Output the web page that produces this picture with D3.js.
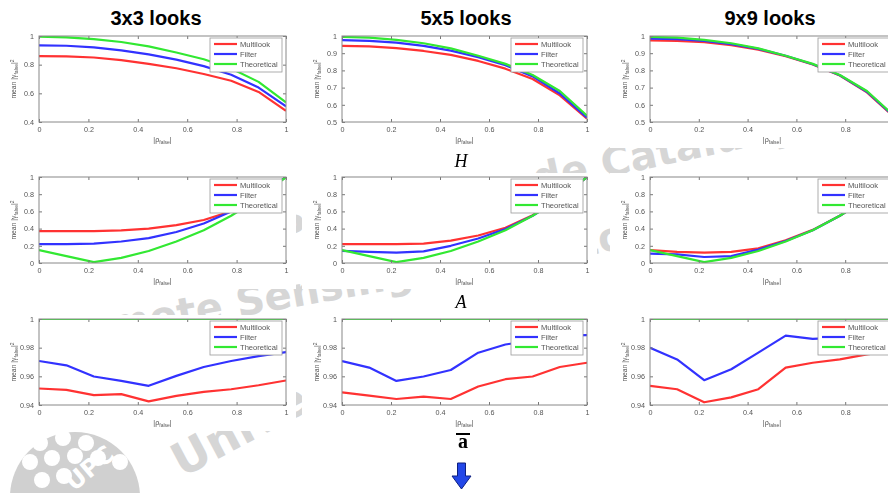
<!DOCTYPE html>
<html><head><meta charset="utf-8">
<script src="https://cdn.jsdelivr.net/npm/d3@7"></script>
<style>
body{margin:0;background:#fff}
svg{display:block}
</style>
</head><body>
<svg id="fig" width="888" height="493"></svg>
<script>
// |rho_false| samples shared by every curve
const rho = [0, 0.111, 0.222, 0.333, 0.444, 0.556, 0.667, 0.778, 0.889, 1];
const looks = ["3x3 looks", "5x5 looks", "9x9 looks"];
const seriesNames = ["Multilook", "Filter", "Theoretical"];
const xTicks = [0, 0.2, 0.4, 0.6, 0.8, 1];

// Entropy H
const hTheoretical = [0.995, 0.99, 0.978, 0.958, 0.928, 0.885, 0.838, 0.773, 0.68, 0.537];
const hMulti3  = [0.86, 0.858, 0.85, 0.832, 0.806, 0.775, 0.735, 0.688, 0.61, 0.478];
const hFilter3 = [0.935, 0.932, 0.92, 0.9, 0.872, 0.835, 0.79, 0.73, 0.64, 0.51];
const hMulti5  = [0.943, 0.94, 0.93, 0.913, 0.89, 0.855, 0.81, 0.75, 0.655, 0.52];
const hFilter5 = [0.976, 0.972, 0.962, 0.943, 0.915, 0.877, 0.83, 0.765, 0.666, 0.525];
const hMulti9  = [0.975, 0.972, 0.964, 0.947, 0.921, 0.882, 0.834, 0.77, 0.672, 0.53];
const hFilter9 = [0.985, 0.982, 0.972, 0.953, 0.925, 0.885, 0.836, 0.772, 0.676, 0.533];

// Anisotropy A
const aTheoretical = [0.15, 0.08, 0.01, 0.06, 0.14, 0.25, 0.38, 0.55, 0.75, 1.0];
const aMulti3  = [0.37, 0.37, 0.37, 0.38, 0.4, 0.44, 0.5, 0.6, 0.77, 1.0];
const aFilter3 = [0.22, 0.22, 0.225, 0.25, 0.29, 0.36, 0.46, 0.6, 0.77, 1.0];
const aMulti5  = [0.22, 0.22, 0.22, 0.225, 0.26, 0.32, 0.41, 0.555, 0.75, 1.0];
const aFilter5 = [0.14, 0.13, 0.12, 0.135, 0.2, 0.285, 0.395, 0.55, 0.75, 1.0];
const aMulti9  = [0.15, 0.13, 0.12, 0.13, 0.17, 0.265, 0.385, 0.55, 0.75, 1.0];
const aFilter9 = [0.11, 0.1, 0.07, 0.08, 0.155, 0.255, 0.38, 0.55, 0.75, 1.0];

// Mean alpha angle (normalised)
const alphaTheoretical = [1, 1, 1, 1, 1, 1, 1, 1, 1, 1];
const alphaMulti3  = [0.9515, 0.9506, 0.9469, 0.9476, 0.9425, 0.9464, 0.9492, 0.951, 0.9538, 0.9571];
const alphaFilter3 = [0.9707, 0.9677, 0.9599, 0.9568, 0.9534, 0.9603, 0.9665, 0.9707, 0.9741, 0.9769];
const alphaMulti5  = [0.9488, 0.9465, 0.9442, 0.9458, 0.9442, 0.9529, 0.958, 0.9599, 0.9665, 0.9695];
const alphaFilter5 = [0.9707, 0.9661, 0.9568, 0.9599, 0.9644, 0.9765, 0.9822, 0.985, 0.9885, 0.9887];
const alphaMulti9  = [0.9534, 0.951, 0.9419, 0.9453, 0.951, 0.9661, 0.9695, 0.9718, 0.9753, 0.978];
const alphaFilter9 = [0.9799, 0.9718, 0.9573, 0.9649, 0.9765, 0.9884, 0.9861, 0.987, 0.988, 0.989];

const yTicksH3 = [0.4, 0.6, 0.8, 1];
const yTicksH = [0.5, 0.6, 0.7, 0.8, 0.9, 1];
const yTicksA = [0, 0.2, 0.4, 0.6, 0.8, 1];
const yTicksAlpha = [0.94, 0.96, 0.98, 1];

const rows = [
  { label: "H", domains: [[0.4, 1], [0.5, 1], [0.5, 1]], ticks: [yTicksH3, yTicksH, yTicksH],
    theo: hTheoretical, multi: [hMulti3, hMulti5, hMulti9], filter: [hFilter3, hFilter5, hFilter9] },
  { label: "A", domains: [[0, 1], [0, 1], [0, 1]], ticks: [yTicksA, yTicksA, yTicksA],
    theo: aTheoretical, multi: [aMulti3, aMulti5, aMulti9], filter: [aFilter3, aFilter5, aFilter9] },
  { label: "a", domains: [[0.94, 1], [0.94, 1], [0.94, 1]], ticks: [yTicksAlpha, yTicksAlpha, yTicksAlpha],
    theo: alphaTheoretical, multi: [alphaMulti3, alphaMulti5, alphaMulti9], filter: [alphaFilter3, alphaFilter5, alphaFilter9] }
];

const colours = ["rgb(255,50,50)", "rgb(50,50,255)", "rgb(50,232,50)"];

// layout
const colLeft = [39, 342, 650], colWidth = [247, 245, 244];
const rowTop = [36, 177, 319], rowHeight = 86;
const titleX = [156, 466, 770];

const svg = d3.select("#fig");
const defs = svg.append("defs");
defs.append("filter").attr("id", "soft")
  .attr("x", "-5%").attr("y", "-5%").attr("width", "110%").attr("height", "110%")
  .append("feGaussianBlur").attr("stdDeviation", 0.6);

// watermark layer
const wm = svg.append("g").attr("fill", "#d6d6d6")
  .attr("font-family", "DejaVu Sans, sans-serif").attr("font-weight", "bold");
function watermark(text, charIndex, tx, ty, angle, size) {
  const g = wm.append("g");
  const t = g.append("text").attr("x", 0).attr("y", 0).attr("font-size", size).text(text);
  const cx = t.node().getStartPositionOfChar(charIndex).x;
  g.attr("transform", `translate(${tx},${ty}) rotate(${angle}) translate(${-cx},0)`);
}
watermark("Politècnica de Catalunya", 15, 604, 178, -12, 40);
watermark("Remote Sensing Laboratory", 5, 198, 324, -10, 40);
watermark("Universitat", 0, 182, 478, -28, 46);

// UPC emblem
const logo = svg.append("g");
logo.append("circle").attr("cx", 75).attr("cy", 497).attr("r", 65).attr("fill", "#d0d0d0");
const dots = [[40, 443], [63, 438], [86, 443], [30, 462], [52, 458], [75, 456], [98, 458], [120, 462], [42, 480], [64, 476]];
logo.selectAll("circle.dot").data(dots).join("circle").attr("class", "dot")
  .attr("cx", d => d[0]).attr("cy", d => d[1]).attr("r", 8).attr("fill", "#fff");
logo.append("text").attr("transform", "translate(74,492) rotate(-40)")
  .attr("font-family", "DejaVu Sans, sans-serif").attr("font-weight", "bold")
  .attr("font-size", 24).attr("fill", "#fff").text("UPC");

// column titles
svg.selectAll("text.title").data(looks).join("text").attr("class", "title")
  .attr("x", (d, i) => titleX[i]).attr("y", 25).attr("text-anchor", "middle")
  .attr("font-family", "Liberation Sans, Arial, sans-serif").attr("font-weight", "bold")
  .attr("font-size", 20).attr("fill", "#000").text(d => d);

const fmt = d3.format("~g");

rows.forEach((row, r) => {
  [0, 1, 2].forEach(c => {
    const w = colWidth[c], h = rowHeight;
    const x = d3.scaleLinear().domain([0, 1]).range([0, w]);
    const y = d3.scaleLinear().domain(row.domains[c]).range([h, 0]);
    const g = svg.append("g").attr("transform", `translate(${colLeft[c]},${rowTop[r]})`)
      .attr("filter", "url(#soft)");

    // white figure area under the axes and labels
    g.append("rect").attr("x", -40).attr("y", -4).attr("width", w + 50).attr("height", h + 30).attr("fill", "#fff");

    const clipId = `clip${r}${c}`;
    defs.append("clipPath").attr("id", clipId).append("rect").attr("width", w).attr("height", h);

    const line = d3.line().x((d, i) => x(rho[i])).y(d => y(d));
    const plot = g.append("g").attr("clip-path", `url(#${clipId})`);
    [row.multi[c], row.filter[c], row.theo].forEach((s, k) => {
      plot.append("path").datum(s).attr("d", line).attr("fill", "none")
        .attr("stroke", colours[k]).attr("stroke-width", 2.2).attr("stroke-linejoin", "round");
    });

    // axes with inward ticks on all four sides
    const axStyle = sel => {
      sel.select(".domain").remove();
      sel.selectAll(".tick line").attr("stroke", "#777");
      sel.selectAll("text").attr("font-family", "Liberation Sans, Arial, sans-serif")
        .attr("font-size", 7.2).attr("fill", "#555");
    };
    g.append("g").attr("transform", `translate(0,${h})`)
      .call(d3.axisBottom(x).tickValues(xTicks).tickFormat(fmt).tickSizeInner(-3).tickSizeOuter(0).tickPadding(5))
      .call(axStyle);
    g.append("g")
      .call(d3.axisTop(x).tickValues(xTicks).tickFormat("").tickSizeInner(-3).tickSizeOuter(0))
      .call(axStyle);
    g.append("g")
      .call(d3.axisLeft(y).tickValues(row.ticks[c]).tickFormat(fmt).tickSizeInner(-3).tickSizeOuter(0).tickPadding(5))
      .call(axStyle);
    g.append("g").attr("transform", `translate(${w},0)`)
      .call(d3.axisRight(y).tickValues(row.ticks[c]).tickFormat("").tickSizeInner(-3).tickSizeOuter(0))
      .call(axStyle);
    g.append("rect").attr("width", w).attr("height", h).attr("fill", "none")
      .attr("stroke", "#888").attr("stroke-width", 1);

    // axis titles
    const xl = g.append("text").attr("x", w / 2).attr("y", h + 20).attr("text-anchor", "middle")
      .attr("font-family", "Liberation Sans, Arial, sans-serif").attr("font-size", 7.2).attr("fill", "#555");
    xl.append("tspan").text("|ρ");
    xl.append("tspan").attr("font-size", 5).attr("dy", 2).text("false");
    xl.append("tspan").attr("dy", -2).text("|");

    const yl = g.append("text").attr("transform", `translate(-23,${h / 2}) rotate(-90)`)
      .attr("text-anchor", "middle")
      .attr("font-family", "Liberation Sans, Arial, sans-serif").attr("font-size", 6.8).attr("fill", "#555");
    yl.append("tspan").text("mean |γ");
    yl.append("tspan").attr("font-size", 5).attr("dy", 1.5).text("false");
    yl.append("tspan").attr("dy", -1.5).text("|");
    yl.append("tspan").attr("font-size", 5).attr("dy", -2.5).text("2");

    // legend
    const lw = 72, lh = 34, lx = w - 4 - lw, ly = 2;
    const leg = g.append("g").attr("transform", `translate(${lx},${ly})`);
    leg.append("rect").attr("width", lw).attr("height", lh).attr("fill", "#fff")
      .attr("stroke", "#999").attr("stroke-width", 0.8);
    seriesNames.forEach((name, k) => {
      const yy = 6 + k * 10;
      leg.append("line").attr("x1", 4).attr("x2", 27).attr("y1", yy).attr("y2", yy)
        .attr("stroke", colours[k]).attr("stroke-width", 2.2);
      leg.append("text").attr("x", 30).attr("y", yy + 2.6)
        .attr("font-family", "Liberation Sans, Arial, sans-serif").attr("font-size", 7.6)
        .attr("fill", "#555").text(name);
    });
  });
});

// row symbols
const sym = svg.append("g").attr("font-family", "Liberation Serif, Times New Roman, serif").attr("fill", "#000");
sym.append("text").attr("x", 461).attr("y", 167).attr("text-anchor", "middle")
  .attr("font-style", "italic").attr("font-size", 18).text(rows[0].label);
sym.append("text").attr("x", 461).attr("y", 308).attr("text-anchor", "middle")
  .attr("font-style", "italic").attr("font-size", 18).text(rows[1].label);
sym.append("text").attr("x", 463).attr("y", 448).attr("text-anchor", "middle")
  .attr("font-weight", "bold").attr("font-size", 20).text(rows[2].label);
sym.append("rect").attr("x", 456).attr("y", 433).attr("width", 14).attr("height", 2).attr("fill", "#000");

// downward arrow
svg.append("path")
  .attr("d", "M457.5,463 L465.5,463 L465.5,476 L471,476 L461.5,489 L452,476 L457.5,476 Z")
  .attr("fill", "#2347e8").attr("stroke", "#0d1f80").attr("stroke-width", 1);
</script>
</body></html>
